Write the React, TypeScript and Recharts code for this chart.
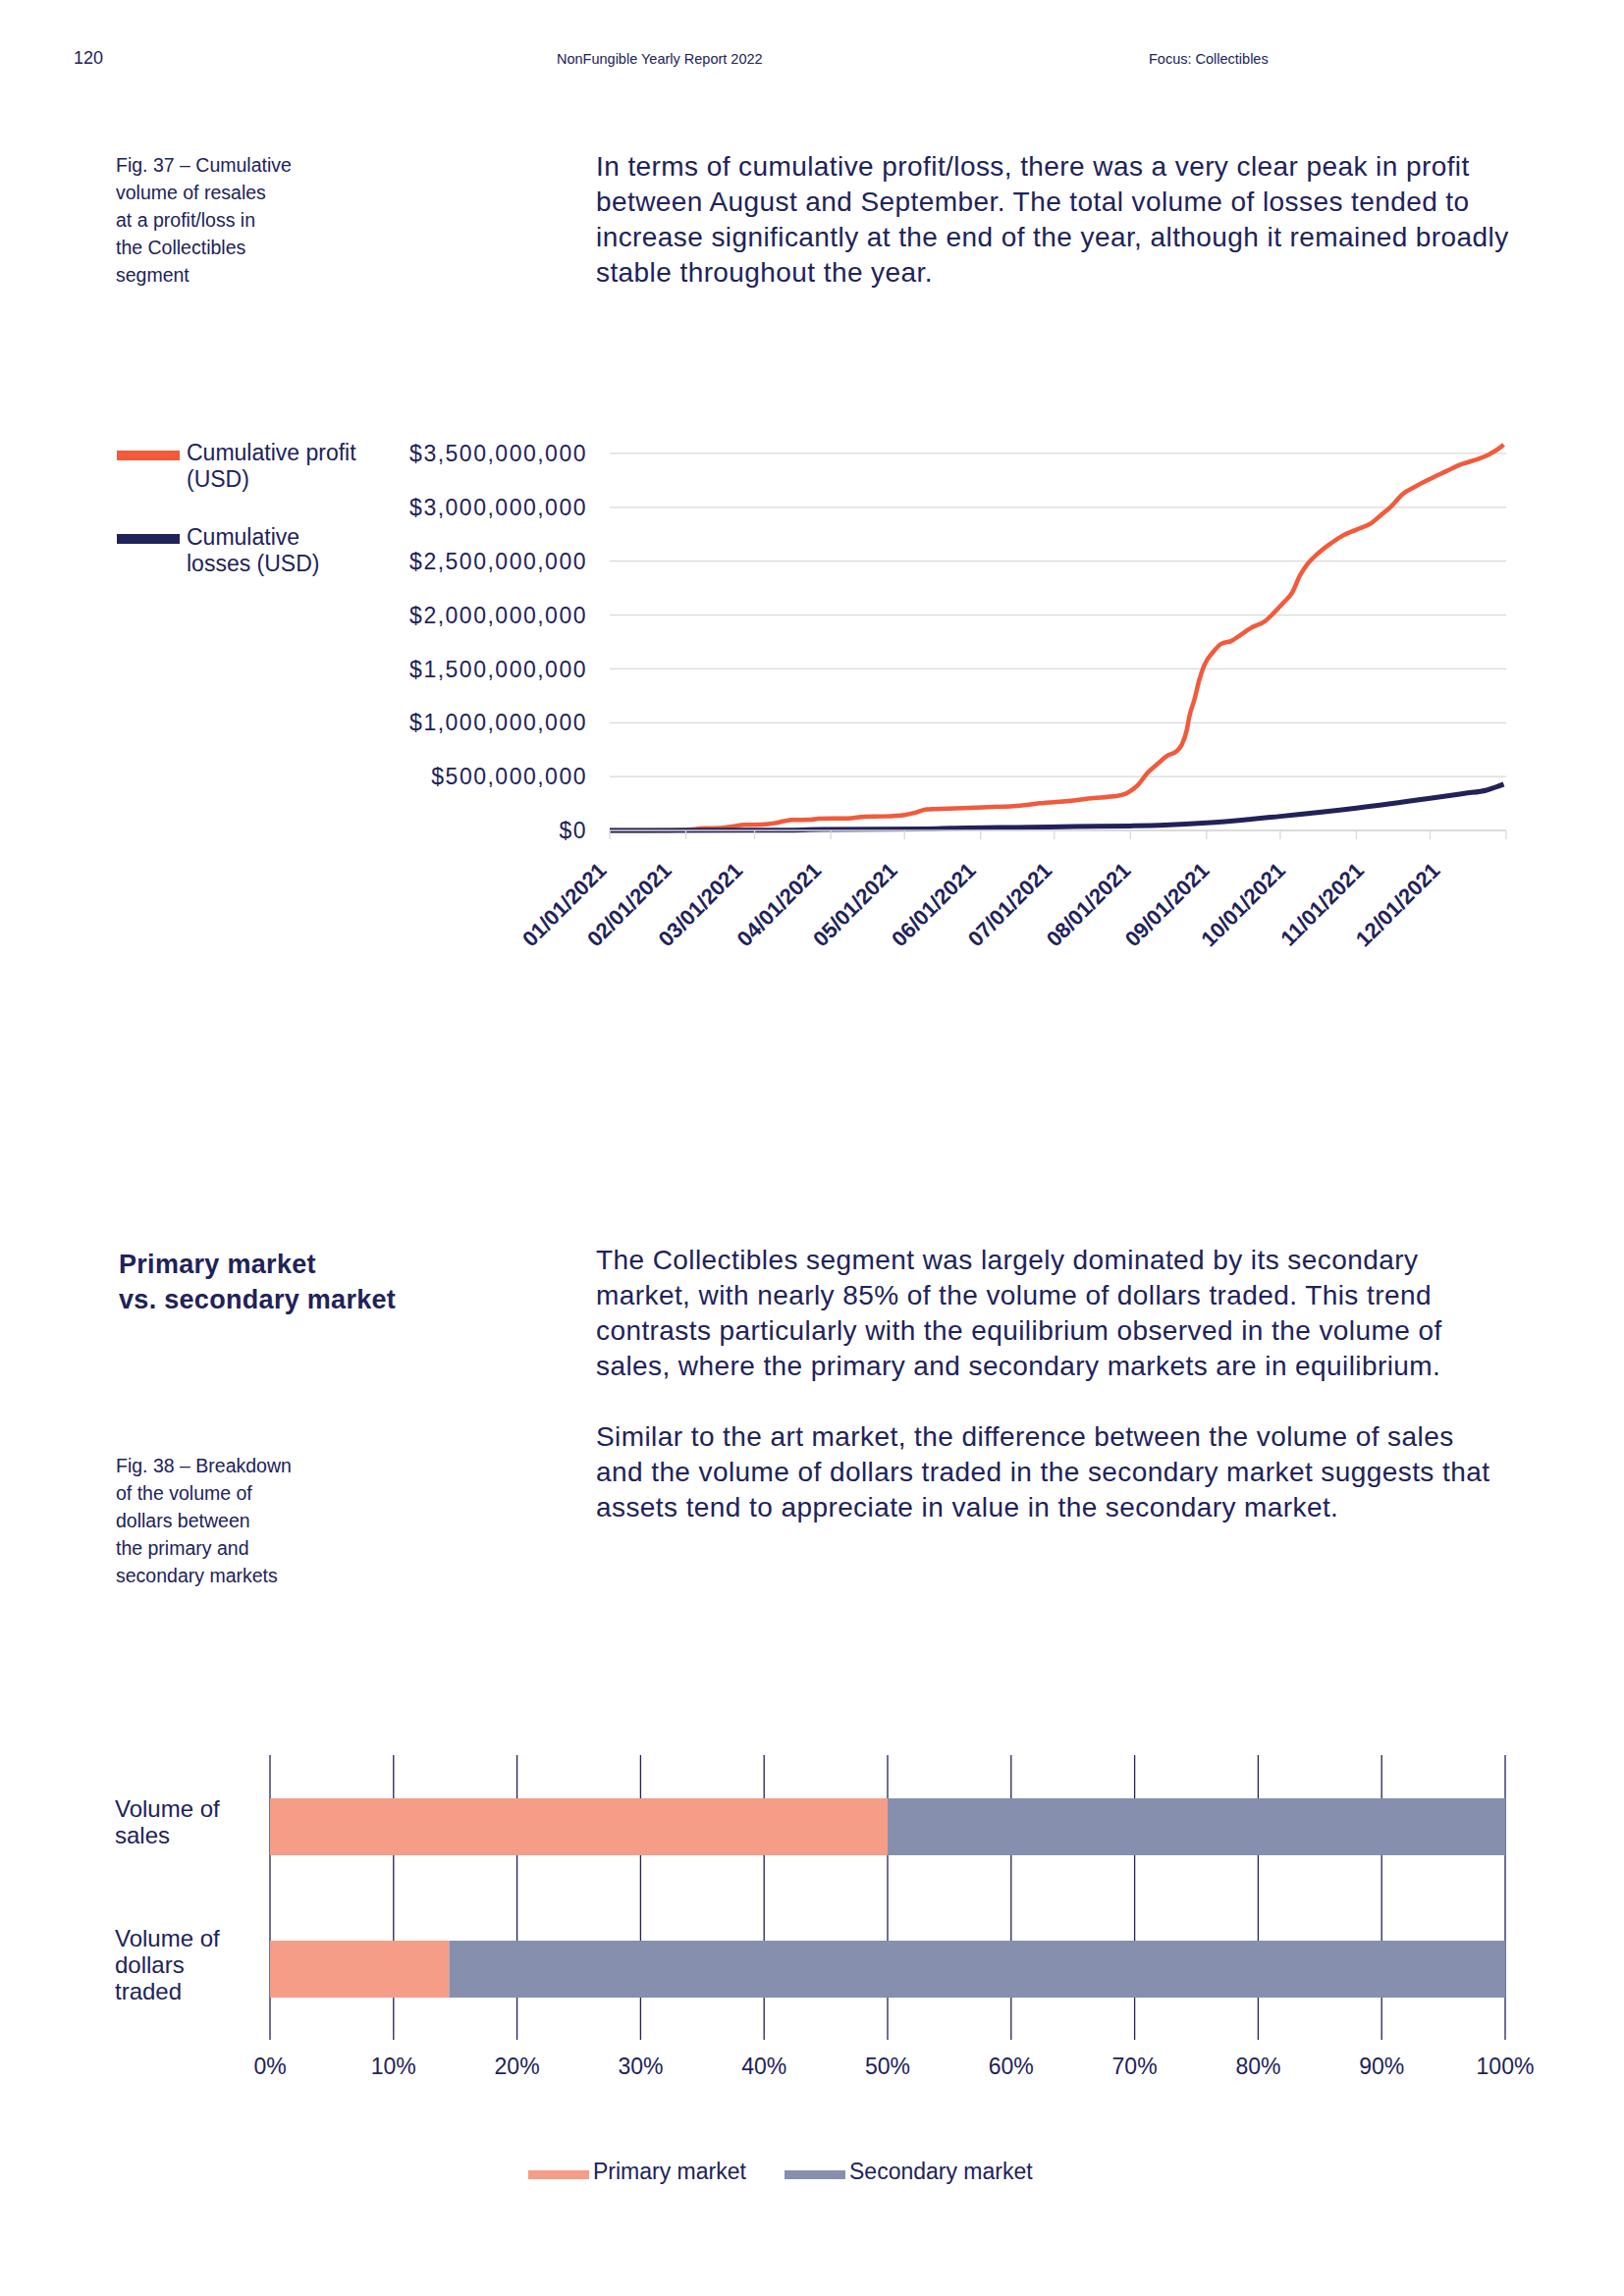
import {
  Bar,
  BarChart,
  CartesianGrid,
  Line,
  LineChart,
  XAxis,
  YAxis,
} from "recharts"

// Fig. 37 – cumulative profit / losses, values in millions of USD
const profitDates = [
  "01/01", "01/25", "02/01", "02/09", "02/15", "02/20", "02/25", "03/04", "03/09", "03/13",
  "03/16", "03/24", "03/27", "04/08", "04/15", "04/23", "05/01", "05/05", "05/10", "05/19",
  "06/02", "06/17", "06/25", "07/07", "07/17", "07/25", "07/30", "08/01", "08/04", "08/08",
  "08/12", "08/16", "08/20", "08/22", "08/24", "08/25", "08/27", "08/29", "08/31", "09/04",
  "09/07", "09/11", "09/15", "09/19", "09/25", "09/28", "10/02", "10/06", "10/09", "10/12",
  "10/16", "10/21", "10/26", "11/01", "11/07", "11/11", "11/15", "11/20", "11/25", "12/01",
  "12/08", "12/13", "12/19", "12/25", "12/29", "12/31",
]
const profitValues = [
  0, 0, 4, 20, 22, 37, 52, 55, 67, 86,
  98, 100, 110, 112, 128, 131, 144, 163, 196, 203,
  215, 230, 252, 273, 301, 316, 340, 365, 420, 535,
  617, 693, 739, 800, 937, 1058, 1210, 1393, 1530, 1666,
  1733, 1758, 1818, 1879, 1946, 2010, 2107, 2214, 2366, 2472,
  2564, 2655, 2731, 2792, 2852, 2928, 3004, 3126, 3193, 3263,
  3339, 3394, 3436, 3491, 3546, 3582,
]

const lossDates = [
  "01/01", "03/09", "03/28", "05/10", "05/20", "06/21", "07/09", "08/01",
  "08/15", "09/01", "10/01", "11/01", "12/01", "12/15", "12/24", "12/31",
]
const lossValues = [0, 2, 8, 14, 20, 30, 36, 42, 50, 70, 131, 207, 298, 344, 374, 430]

const monthTicks = ["01/01", "02/01", "03/01", "04/01", "05/01", "06/01", "07/01", "08/01", "09/01", "10/01", "11/01", "12/01"]
const monthLabels = monthTicks.map((d) => `${d}/2021`)
const yTicks = [0, 500, 1000, 1500, 2000, 2500, 3000, 3500]

// Fig. 38 – primary vs secondary market
const categories = ["Volume of sales", "Volume of dollars traded"]
const categoryLines = [["Volume of", "sales"], ["Volume of", "dollars", "traded"]]
const primaryShare = [0.5, 0.145]
const secondaryShare = [0.5, 0.855]
const shareTicks = [0, 0.1, 0.2, 0.3, 0.4, 0.5, 0.6, 0.7, 0.8, 0.9, 1]

const NAVY = "#212259"
const ORANGE = "#F15A3B"
const SALMON = "#F59D87"
const SLATE = "#8690AE"
const GRID = "#D9D9D9"
const FONT = "'Liberation Sans', Arial, Helvetica, sans-serif"

const dayOfYear = (md: string) => {
  const [m, d] = md.split("/").map(Number)
  return (Date.UTC(2021, m - 1, d) - Date.UTC(2021, 0, 1)) / 86400000
}

const profitData = profitDates.map((d, i) => ({ day: dayOfYear(d), value: profitValues[i] }))
const lossData = lossDates.map((d, i) => ({ day: dayOfYear(d), value: lossValues[i] }))
const xTicks = [...monthTicks.map(dayOfYear), 365]

const barData = categories.map((name, i) => ({
  name,
  primary: primaryShare[i],
  secondary: secondaryShare[i],
}))

const usd = (v: number) => `$${(v * 1e6).toLocaleString("en-US")}`

function T({
  x,
  baseline,
  fs,
  lh,
  weight = 400,
  ls = 0,
  children,
}: {
  x: number
  baseline: number
  fs: number
  lh?: number
  weight?: number
  ls?: number
  children: React.ReactNode
}) {
  const lineH = lh ?? fs * 1.2
  const top = baseline - (lineH - fs * 1.149) / 2 - fs * 0.905
  return (
    <div
      style={{
        position: "absolute",
        left: x,
        top,
        fontSize: fs,
        lineHeight: `${lineH}px`,
        fontWeight: weight,
        letterSpacing: ls,
        whiteSpace: "pre",
        color: NAVY,
      }}
    >
      {children}
    </div>
  )
}

// rotated month labels, nudged the way the source layout spreads them
function DateTick({ x, y, index }: any) {
  const label = monthLabels[index]
  if (!label) return null
  const ex = index === 0 ? x - 2 : x - 16 + index * 2.5
  const ey = y + 33
  return (
    <text
      x={ex}
      y={ey}
      transform={`rotate(-45 ${ex} ${ey})`}
      textAnchor="end"
      fill={NAVY}
      fontSize={22}
      fontWeight={700}
      fontFamily={FONT}
    >
      {label}
    </text>
  )
}

function CategoryTick({ y, index }: any) {
  const lines = categoryLines[index] ?? []
  return (
    <text fill={NAVY} fontSize={24} fontFamily={FONT}>
      {lines.map((l, i) => (
        <tspan key={i} x={17} y={y + (i - (lines.length - 1) / 2) * 27 + 4}>
          {l}
        </tspan>
      ))}
    </text>
  )
}

function Swatch({ x, y, w, h, color }: { x: number; y: number; w: number; h: number; color: string }) {
  return <div style={{ position: "absolute", left: x, top: y, width: w, height: h, background: color }} />
}

export default function App() {
  return (
    <div
      style={{
        position: "absolute",
        left: 0,
        top: 0,
        width: 1654,
        height: 2339,
        background: "#fff",
        fontFamily: FONT,
        color: NAVY,
        overflow: "hidden",
      }}
    >
      {/* header */}
      <T x={75} baseline={66} fs={18}>120</T>
      <T x={567} baseline={65} fs={14.5}>NonFungible Yearly Report 2022</T>
      <T x={1170} baseline={65} fs={14.5}>Focus: Collectibles</T>

      <T x={118} baseline={174} fs={19.5} lh={28}>
        {"Fig. 37 – Cumulative\nvolume of resales\nat a profit/loss in\nthe Collectibles\nsegment"}
      </T>
      <T x={607} baseline={179} fs={28} lh={36} ls={0.42}>
        {"In terms of cumulative profit/loss, there was a very clear peak in profit\nbetween August and September. The total volume of losses tended to\nincrease significantly at the end of the year, although it remained broadly\nstable throughout the year."}
      </T>

      {/* legend fig. 37 */}
      <Swatch x={119} y={459} w={64} h={10} color={ORANGE} />
      <T x={190} baseline={469} fs={23} lh={27}>{"Cumulative profit\n(USD)"}</T>
      <Swatch x={119} y={544} w={64} h={10} color={NAVY} />
      <T x={190} baseline={555} fs={23} lh={27}>{"Cumulative\nlosses (USD)"}</T>

      <div style={{ position: "absolute", left: 380, top: 430 }}>
        <LineChart width={1200} height={560} margin={{ top: 21, right: 46, bottom: 14, left: 0 }}>
          <CartesianGrid
            stroke={GRID}
            strokeWidth={1.3}
            vertical={false}
            horizontalValues={yTicks}
          />
          <XAxis
            dataKey="day"
            type="number"
            domain={[0, 365]}
            ticks={xTicks}
            interval={0}
            height={130}
            axisLine={{ stroke: GRID, strokeWidth: 1.3 }}
            tickLine={{ stroke: GRID, strokeWidth: 1.3 }}
            tickSize={9}
            tickMargin={0}
            tick={<DateTick />}
            allowDuplicatedCategory={false}
          />
          <YAxis
            type="number"
            domain={[0, 3600]}
            ticks={yTicks}
            width={241}
            axisLine={false}
            tickLine={false}
            tickSize={0}
            tickMargin={23}
            tickFormatter={usd}
            tick={{ fill: NAVY, fontSize: 23, fontFamily: FONT, letterSpacing: 1.5 }}
          />
          <Line
            data={profitData}
            dataKey="value"
            type="monotone"
            stroke={ORANGE}
            strokeWidth={4.5}
            dot={false}
            isAnimationActive={false}
          />
          <Line
            data={lossData}
            dataKey="value"
            type="monotone"
            stroke={NAVY}
            strokeWidth={5}
            dot={false}
            isAnimationActive={false}
          />
        </LineChart>
      </div>

      {/* section 2 */}
      <T x={121} baseline={1297} fs={27} lh={36} weight={700} ls={0.3}>
        {"Primary market\nvs. secondary market"}
      </T>
      <T x={607} baseline={1293} fs={28} lh={36.3} ls={0.42}>
        {"The Collectibles segment was largely dominated by its secondary\nmarket, with nearly 85% of the volume of dollars traded. This trend\ncontrasts particularly with the equilibrium observed in the volume of\nsales, where the primary and secondary markets are in equilibrium."}
      </T>
      <T x={607} baseline={1473} fs={28} lh={36.3} ls={0.42}>
        {"Similar to the art market, the difference between the volume of sales\nand the volume of dollars traded in the secondary market suggests that\nassets tend to appreciate in value in the secondary market."}
      </T>
      <T x={118} baseline={1499} fs={19.5} lh={28}>
        {"Fig. 38 – Breakdown\nof the volume of\ndollars between\nthe primary and\nsecondary markets"}
      </T>

      <div style={{ position: "absolute", left: 100, top: 1770 }}>
        <BarChart
          width={1500}
          height={400}
          data={barData}
          layout="vertical"
          margin={{ top: 18, right: 67, bottom: 32, left: 0 }}
        >
          <CartesianGrid stroke={NAVY} strokeWidth={1.3} horizontal={false} />
          <XAxis
            type="number"
            domain={[0, 1]}
            ticks={shareTicks}
            interval={0}
            height={60}
            axisLine={false}
            tickLine={false}
            tickSize={0}
            tickMargin={19}
            tickFormatter={(v: number) => `${Math.round(v * 100)}%`}
            tick={{ fill: NAVY, fontSize: 23, fontFamily: FONT }}
          />
          <YAxis
            type="category"
            dataKey="name"
            width={175}
            axisLine={false}
            tickLine={false}
            tick={<CategoryTick />}
          />
          <Bar dataKey="primary" stackId="a" fill={SALMON} barSize={58} isAnimationActive={false} />
          <Bar dataKey="secondary" stackId="a" fill={SLATE} barSize={58} isAnimationActive={false} />
        </BarChart>
      </div>

      {/* legend fig. 38 */}
      <Swatch x={538} y={2211} w={62} h={9} color={SALMON} />
      <T x={604} baseline={2220} fs={23}>Primary market</T>
      <Swatch x={799} y={2211} w={62} h={9} color={SLATE} />
      <T x={865} baseline={2220} fs={23}>Secondary market</T>
    </div>
  )
}
